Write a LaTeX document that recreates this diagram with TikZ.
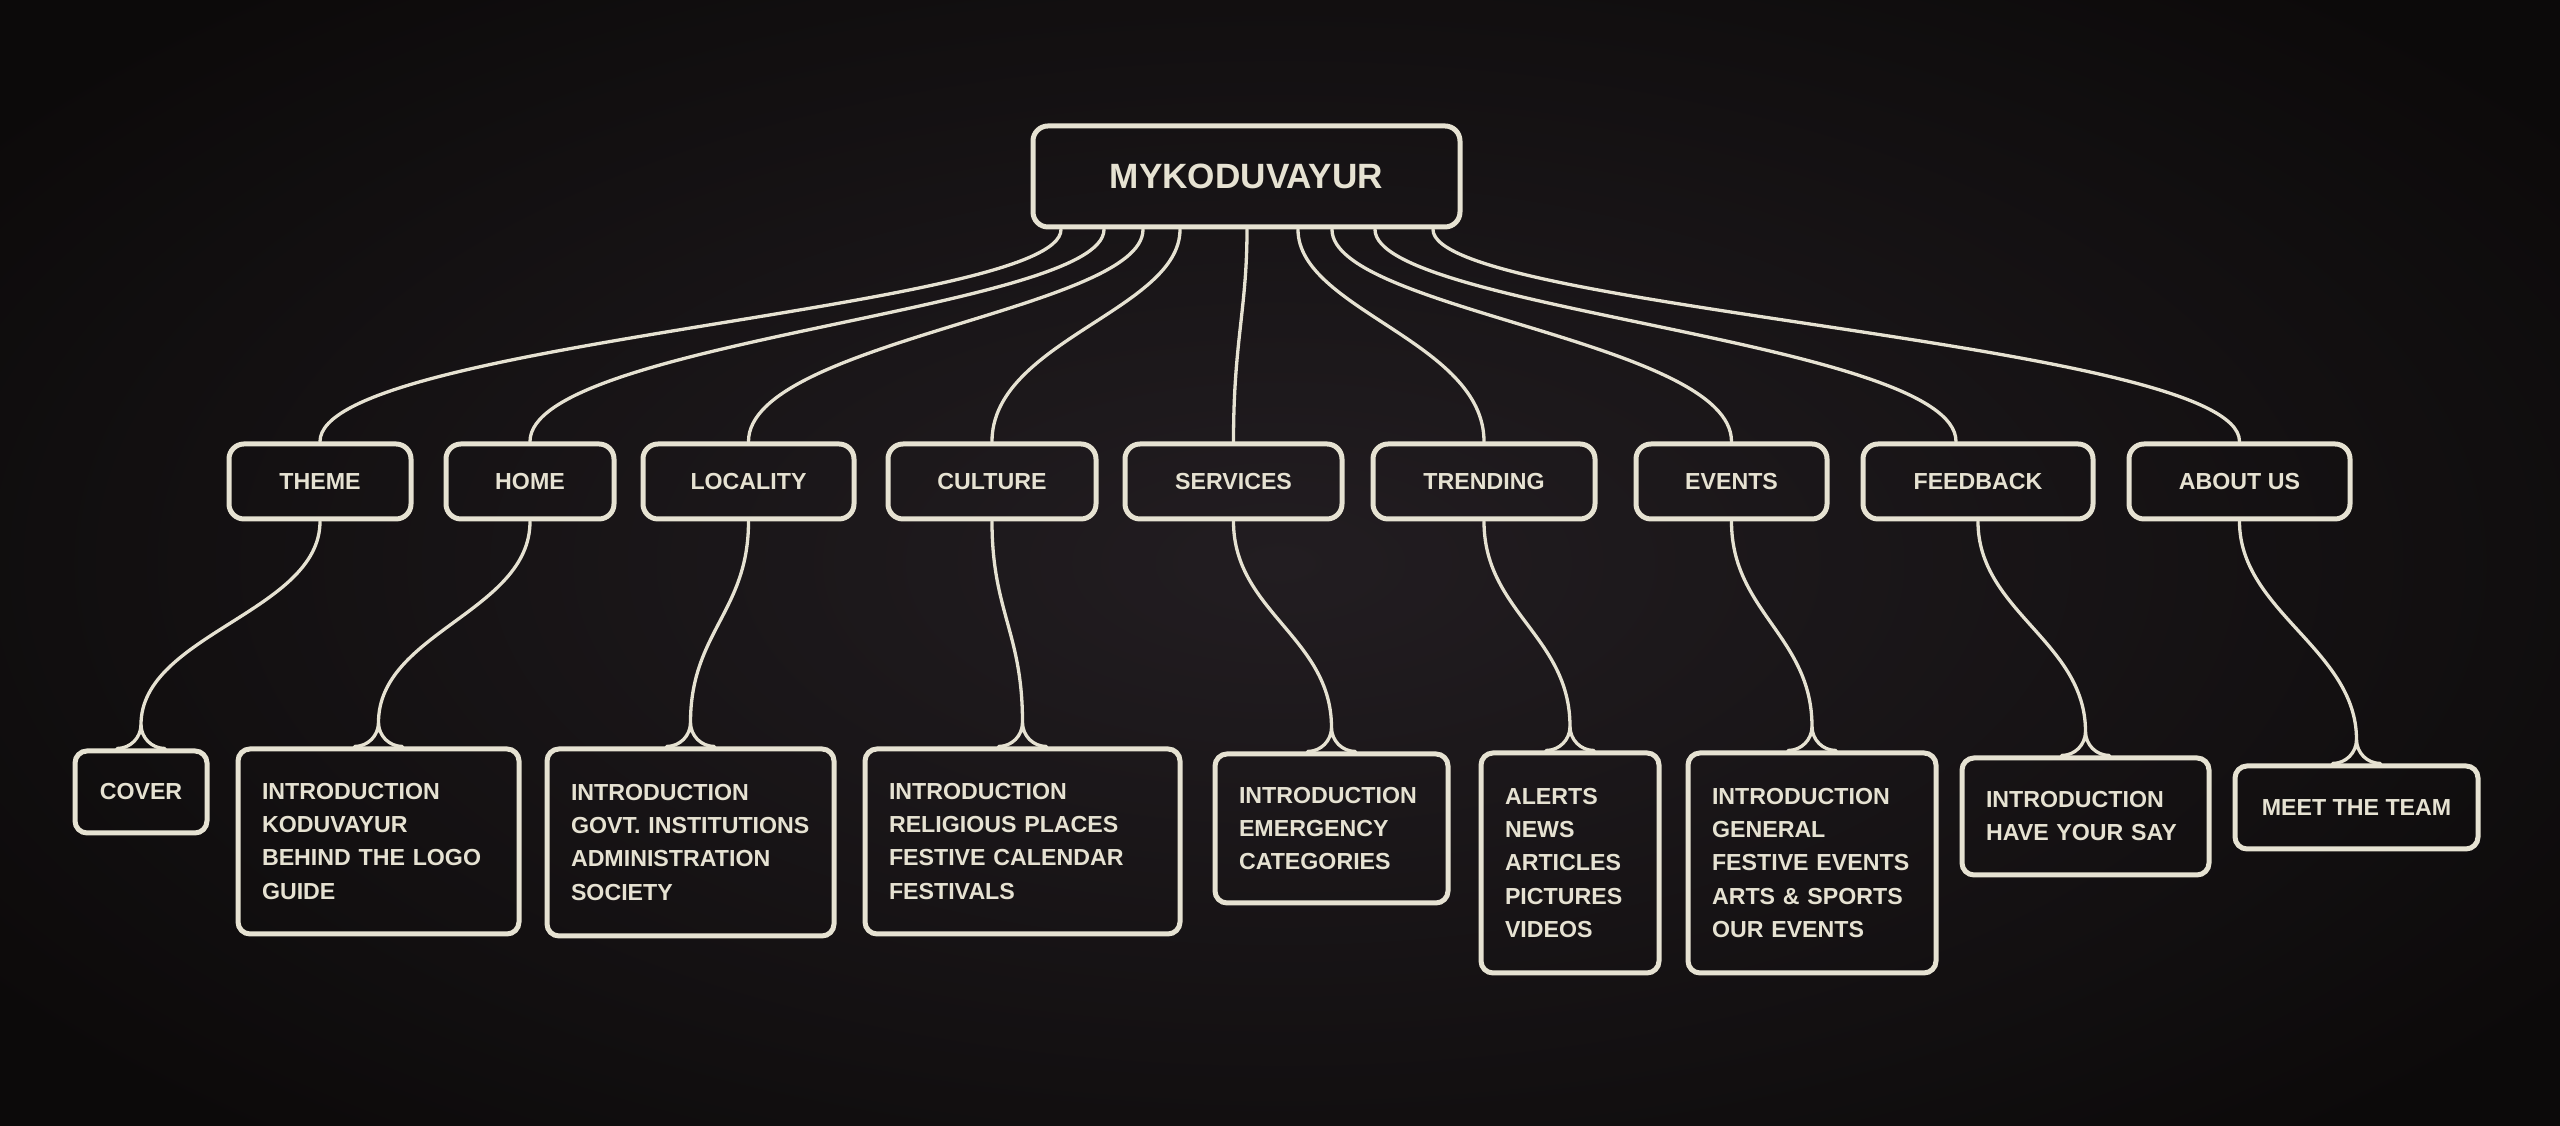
\documentclass[tikz,border=0pt]{standalone}
\usepackage{fontspec}
\setmainfont{Liberation Sans}
\usepackage{xcolor}

\definecolor{chalk}{HTML}{E6E2D2}
\definecolor{bgin}{HTML}{221D21}
\definecolor{bgout}{HTML}{0C0A0A}

\begin{document}
\begin{tikzpicture}[x=0.1mm, y=-0.1mm,
    box/.style={draw=chalk, line width=0.5mm, rounded corners=1.5mm, text=chalk, inner sep=0pt,
                font=\bfseries\fontsize{6.6}{9.4}\selectfont},
    mid/.style={box, minimum height=7.5mm},
    leaf/.style={box, rounded corners=1.2mm, align=left, inner xsep=2.4mm},
    wire/.style={draw=chalk, line width=0.33mm, line cap=round}]
    \useasboundingbox (0,0) rectangle (2560,1126);
    \shade[inner color=bgin, outer color=bgout] (-300,-200) rectangle (2860,1326);

    % top
    \node[box, minimum width=42.7mm, minimum height=10.1mm, font=\bfseries\fontsize{10}{12}\selectfont] (root) at (1246.5,176.5) {MYKODUVAYUR};

    % menu
    \node[mid, minimum width=18.2mm] (theme) at (320,481.5) {THEME};
    \node[mid, minimum width=16.8mm] (home) at (530,481.5) {HOME};
    \node[mid, minimum width=21.1mm] (locality) at (748.5,481.5) {LOCALITY};
    \node[mid, minimum width=20.8mm] (culture) at (992,481.5) {CULTURE};
    \node[mid, minimum width=21.7mm] (services) at (1233.5,481.5) {SERVICES};
    \node[mid, minimum width=22.2mm] (trending) at (1484,481.5) {TRENDING};
    \node[mid, minimum width=19.1mm] (events) at (1731.5,481.5) {EVENTS};
    \node[mid, minimum width=23.0mm] (feedback) at (1978,481.5) {FEEDBACK};
    \node[mid, minimum width=22.1mm] (aboutus) at (2239.5,481.5) {ABOUT US};

    % pages
    \node[box, rounded corners=1.2mm, minimum width=13.2mm, minimum height=8.2mm] (lcover) at (141,792) {COVER};
    \node[leaf, text width=23.3mm, minimum height=18.5mm] (lhome) at (378.5,841.5)
        {INTRODUCTION\\KODUVAYUR\\BEHIND~THE~LOGO\\GUIDE};
    \node[leaf, text width=23.9mm, minimum height=18.7mm] (llocality) at (690.5,842.5)
        {INTRODUCTION\\GOVT.~INSTITUTIONS\\ADMINISTRATION\\SOCIETY};
    \node[leaf, text width=26.7mm, minimum height=18.5mm] (lculture) at (1022.5,841.5)
        {INTRODUCTION\\RELIGIOUS~PLACES\\FESTIVE~CALENDAR\\FESTIVALS};
    \node[leaf, text width=18.5mm, minimum height=14.9mm] (lservices) at (1331.5,828.5)
        {INTRODUCTION\\EMERGENCY\\CATEGORIES};
    \node[leaf, text width=13.0mm, minimum height=22.0mm] (ltrending) at (1570,863)
        {ALERTS\\NEWS\\ARTICLES\\PICTURES\\VIDEOS};
    \node[leaf, text width=20.0mm, minimum height=22.0mm] (levents) at (1812,863)
        {INTRODUCTION\\GENERAL\\FESTIVE~EVENTS\\ARTS~\&~SPORTS\\OUR~EVENTS};
    \node[leaf, text width=19.9mm, minimum height=11.7mm] (lfeedback) at (2085.5,816.5)
        {INTRODUCTION\\HAVE~YOUR~SAY};
    \node[box, rounded corners=1.2mm, minimum width=24.3mm, minimum height=8.3mm] (lteam) at (2356.5,807.5) {MEET THE TEAM};

    % root to menu
    \foreach \n/\s/\e in {theme/-18.55/0, home/-14.25/0, locality/-10.35/0, culture/-6.65/0, services/0.05/0,
                          trending/5.15/0, events/8.55/0, feedback/12.85/-2.2, aboutus/18.65/0}
        \draw[wire] ([xshift=\s mm]root.south) .. controls +(0,80) and +(0,-100) .. ([xshift=\e mm]\n.north);

    % menu to pages
    \foreach \m/\l in {theme/lcover, home/lhome, locality/llocality, culture/lculture, services/lservices,
                       trending/ltrending, events/levents, feedback/lfeedback, aboutus/lteam} {
        \draw[wire] (\m.south) .. controls +(0,90) and +(0,-90) .. ([yshift=2.4mm]\l.north);
        \draw[wire] ([xshift=-2.4mm]\l.north) to[out=0, in=-90] ([yshift=2.4mm]\l.north)
            to[out=-90, in=180] ([xshift=2.4mm]\l.north);
    }
\end{tikzpicture}
\end{document}
